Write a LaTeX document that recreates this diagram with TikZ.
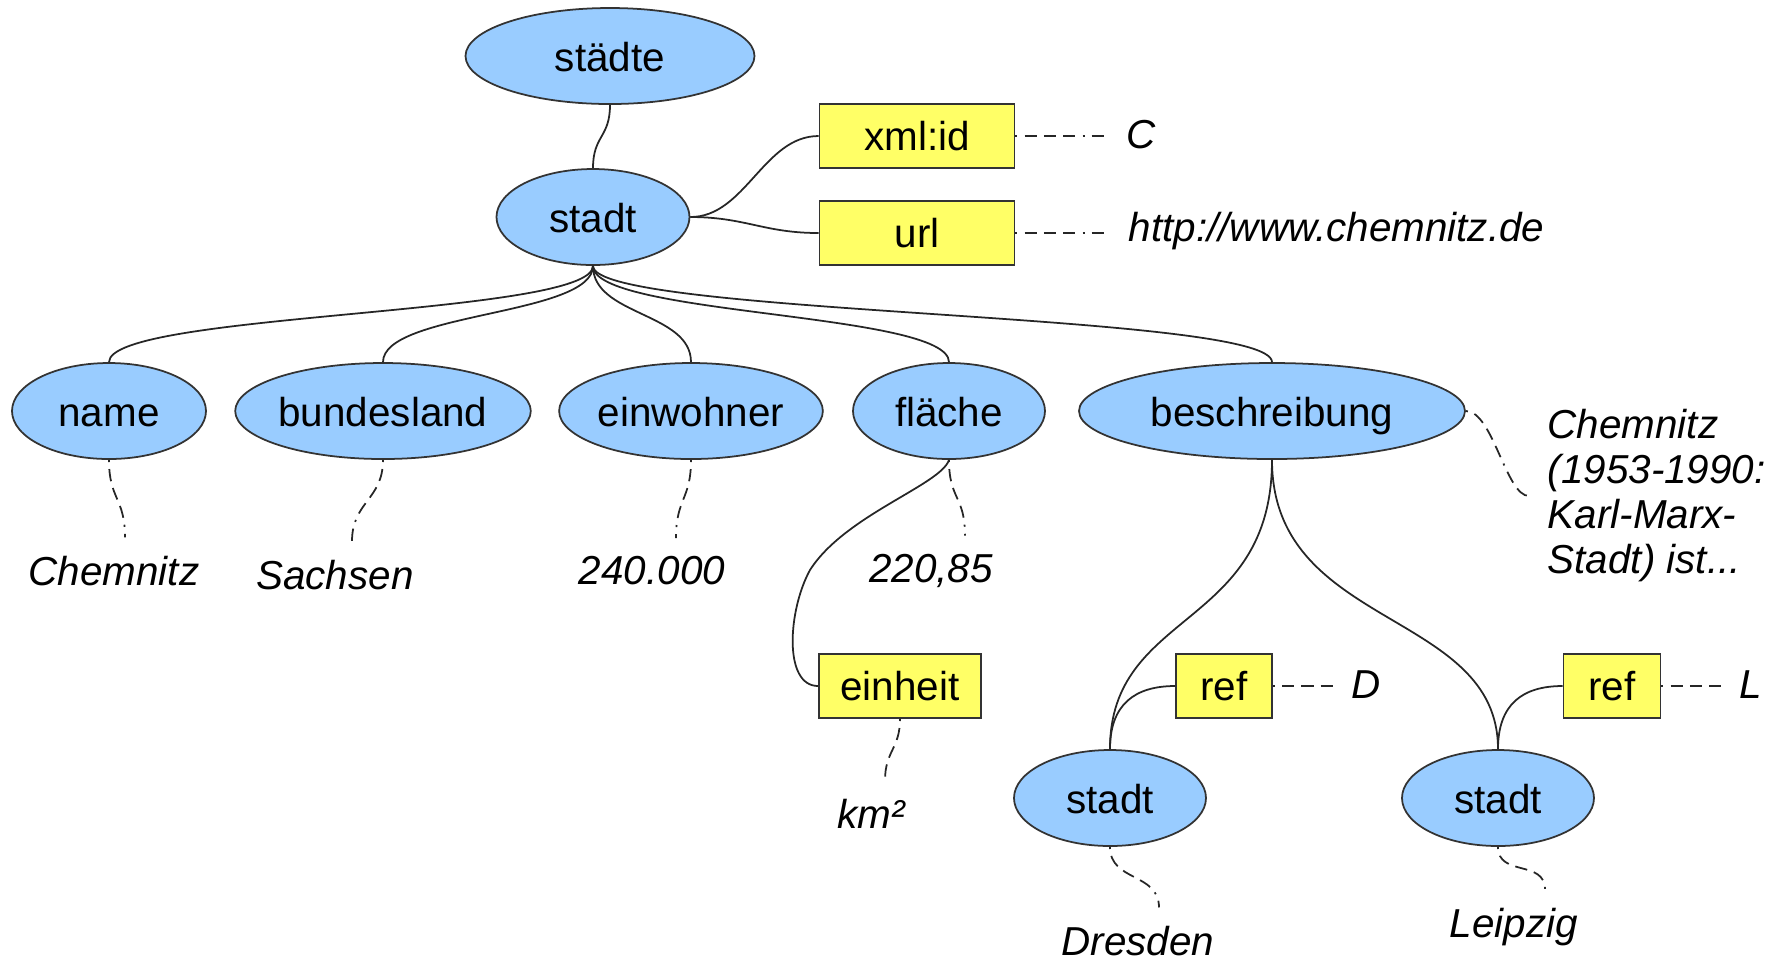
\documentclass[tikz,border=0pt]{standalone}
\usepackage{fontspec}
\setmainfont{Liberation Sans}
\usetikzlibrary{shapes.geometric}
\definecolor{elemblue}{HTML}{99CCFF}
\definecolor{attryellow}{HTML}{FFFF66}

\begin{document}
\begin{tikzpicture}[x=0.1mm,y=-0.1mm,
    every node/.style={font=\fontsize{11.5}{12.8}\selectfont},
    element/.style={ellipse,draw=black!80,fill=elemblue,line width=0.5pt,
                    inner sep=0pt,minimum height=9.6mm,
                    text height=0.87em,text depth=0pt},
    attrib/.style={rectangle,draw=black!80,fill=attryellow,line width=0.5pt,
                   inner sep=0pt,minimum height=6.4mm,
                   text height=0.85em,text depth=0pt},
    value/.style={inner sep=1.8mm,font=\fontsize{11.5}{12.8}\selectfont\itshape},
    link/.style={black!85,line width=0.5pt},
    textlink/.style={black!85,line width=0.5pt,
      dash pattern=on 0.6pt off 2pt on 3.5pt off 2pt on 3.5pt off 2pt on 3.5pt off 2pt}]
  \useasboundingbox (0,0) rectangle (1781,959);

  % root and the first stadt
  \node[element,minimum width=28.9mm] (staedte) at (610,56) {städte};
  \node[element,minimum width=19.3mm] (stadt) at (593,217) {stadt};
  \node[attrib,minimum width=19.5mm] (xmlid) at (917,136) {xml:id};
  \node[attrib,minimum width=19.5mm] (url) at (917,233) {url};
  \node[value] (idC) at (1141,135) {C};
  \node[value,anchor=west] (urlval) at (1110,231) {http://www.chemnitz.de};

  % children of stadt
  \node[element,minimum width=19.4mm] (name) at (109,411) {name};
  \node[element,minimum width=28.9mm] (land) at (383,411) {bundesland};
  \node[element,minimum width=25.9mm] (einw) at (691,411) {einwohner};
  \node[element,minimum width=19.2mm] (flaeche) at (949,411) {fläche};
  \node[element,minimum width=38.6mm] (beschr) at (1272,411) {beschreibung};

  \node[value] (nameval) at (114,571) {Chemnitz};
  \node[value] (landval) at (335,575) {Sachsen};
  \node[value] (einwval) at (652,571) {240.000};
  \node[value] (flval) at (931,571) {220,85};
  \node[value,anchor=west,align=left] (beschrval) at (1529,496)
    {Chemnitz\\(1953-1990:\\Karl-Marx-\\Stadt) ist...};

  \node[attrib,minimum width=16.2mm] (einheit) at (900,686) {einheit};
  \node[value] (einhval) at (871,814) {km²};

  % cities referenced in the description
  \node[attrib,minimum width=9.6mm] (ref1) at (1224,686) {ref};
  \node[attrib,minimum width=9.7mm] (ref2) at (1612,686) {ref};
  \node[value] (refD) at (1366,685) {D};
  \node[value] (refL) at (1751,685) {L};
  \node[element,minimum width=19.2mm] (stadtD) at (1110,798) {stadt};
  \node[element,minimum width=19.2mm] (stadtL) at (1498,798) {stadt};
  \node[value] (dresden) at (1138,941) {Dresden};
  \node[value] (leipzig) at (1514,927) {Leipzig};

  % tree edges
  \draw[link] (staedte.south) .. controls +(0,33) and +(0,-33) .. (stadt.north);
  \draw[link] (stadt.east) .. controls +(55,0) and +(-55,0) .. (xmlid.west);
  \draw[link] (stadt.east) .. controls +(55,0) and +(-55,0) .. (url.west);
  \foreach \n in {name,land,einw,flaeche,beschr}
    \draw[link] (stadt.south) .. controls +(0,50) and +(0,-50) .. (\n.north);
  \draw[link] (flaeche.south) .. controls +(-8,25) and +(35,-55) .. (810,570)
    .. controls +(-22,40) and +(-35,0) .. (einheit.west);
  \draw[link] (beschr.south) .. controls +(0,170) and +(0,-140) .. (stadtD.north);
  \draw[link] (beschr.south) .. controls +(0,170) and +(0,-140) .. (stadtL.north);
  \draw[link] (stadtD.north) .. controls +(0,-45) and +(-40,0) .. (ref1.west);
  \draw[link] (stadtL.north) .. controls +(0,-45) and +(-40,0) .. (ref2.west);

  % text contents
  \draw[textlink] (xmlid.east) -- (xmlid.east -| idC.west);
  \draw[textlink] (url.east) -- (url.east -| urlval.west);
  \draw[textlink] (ref1.east) -- (ref1.east -| refD.west);
  \draw[textlink] (ref2.east) -- (ref2.east -| refL.west);
  \draw[textlink] (name.south) .. controls +(0,40) and +(0,-40) .. ([xshift=1.1mm]nameval.north);
  \draw[textlink] (land.south) .. controls +(0,40) and +(0,-40) .. ([xshift=1.7mm]landval.north);
  \draw[textlink] (einw.south) .. controls +(0,40) and +(0,-40) .. ([xshift=2.4mm]einwval.north);
  \draw[textlink] (flaeche.south) .. controls +(0,40) and +(0,-40) .. ([xshift=3.4mm]flval.north);
  \draw[textlink] (beschr.east) .. controls +(27,0) and +(-23,0) .. (beschrval.west);
  \draw[textlink] (einheit.south) .. controls +(0,30) and +(0,-30) .. ([xshift=1.4mm]einhval.north);
  \draw[textlink] (stadtD.south) .. controls +(0,35) and +(0,-35) .. ([xshift=2.1mm]dresden.north);
  \draw[textlink] (stadtL.south) .. controls +(0,30) and +(0,-30) .. ([xshift=3.1mm]leipzig.north);
\end{tikzpicture}
\end{document}
